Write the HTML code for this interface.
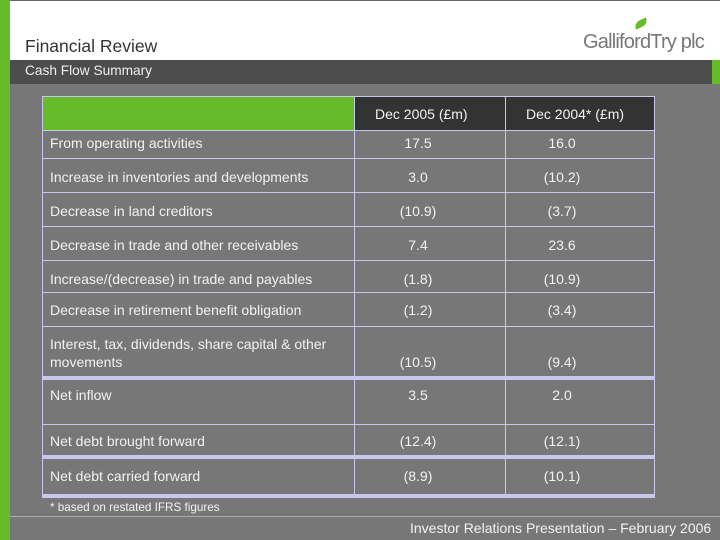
<!DOCTYPE html>
<html><head><meta charset="utf-8"><style>
body{margin:0;width:720px;height:540px;overflow:hidden;background:#777;font-family:"Liberation Sans",sans-serif;position:relative}
div{position:absolute}
.t{color:#f2f2f2;font-size:14px;white-space:nowrap}
.hl{left:42px;width:613px;background:#c8c8ee}
.vl{width:1px;background:#c8c8ee}
</style></head><body>
<div style="left:0;top:0;width:720px;height:60px;background:#fff;border-top:1px solid #666;box-sizing:border-box"></div>
<div style="left:0;top:0;width:10px;height:540px;background:#66bb2a"></div>
<div style="left:25px;top:36px;font-size:17.5px;color:#333">Financial Review</div>
<div style="left:583px;top:31px;font-size:20px;color:#777;letter-spacing:-0.8px">GallifordTry plc</div>
<div style="left:634px;top:20px;width:14px;height:7px;background:#66bb2a;border-radius:8px 0 8px 0;transform:rotate(-25deg)"></div>
<div style="left:10px;top:60px;width:702px;height:24px;background:#4d4d4d"></div>
<div style="left:712px;top:60px;width:8px;height:24px;background:#66bb2a"></div>
<div class="t" style="left:25px;top:63px;color:#eee;font-size:13.7px">Cash Flow Summary</div>

<div style="left:42px;top:96px;width:312px;height:35px;background:#66bb2a"></div>
<div style="left:354px;top:96px;width:301px;height:35px;background:#333"></div>
<div class="t" style="left:375px;top:106px">Dec 2005 (£m)</div>
<div class="t" style="left:526px;top:106px">Dec 2004* (£m)</div>

<div class="hl" style="top:96px;height:1px"></div>
<div class="hl" style="top:130px;height:1px"></div>
<div class="hl" style="top:158px;height:1px"></div>
<div class="hl" style="top:192px;height:1px"></div>
<div class="hl" style="top:226px;height:1px"></div>
<div class="hl" style="top:260px;height:1px"></div>
<div class="hl" style="top:292px;height:1px"></div>
<div class="hl" style="top:326px;height:1px"></div>
<div class="hl" style="top:376px;height:4px"></div>
<div class="hl" style="top:424px;height:1px"></div>
<div class="hl" style="top:455px;height:4px"></div>
<div class="hl" style="top:494px;height:4px"></div>
<div class="vl" style="left:42px;top:96px;height:402px"></div>
<div class="vl" style="left:354px;top:96px;height:402px"></div>
<div class="vl" style="left:505px;top:96px;height:402px"></div>
<div class="vl" style="left:654px;top:96px;height:402px"></div>

<div class="t" style="left:50px;top:501px;font-size:11.7px">* based on restated IFRS figures</div>
<div style="left:10px;top:516px;width:710px;height:1px;background:#aaa"></div>
<div class="t" style="left:410px;top:520px;font-size:14px">Investor Relations Presentation – February 2006</div>
<script>
const labels=["From operating activities","Increase in inventories and developments","Decrease in land creditors","Decrease in trade and other receivables","Increase/(decrease) in trade and payables","Decrease in retirement benefit obligation","Interest, tax, dividends, share capital & other<br>movements","Net inflow","Net debt brought forward","Net debt carried forward"];
const v2005=["17.5","3.0","(10.9)","7.4","(1.8)","(1.2)","(10.5)","3.5","(12.4)","(8.9)"];
const v2004=["16.0","(10.2)","(3.7)","23.6","(10.9)","(3.4)","(9.4)","2.0","(12.1)","(10.1)"];
const tops=[134,168,202,236,270,301,335,386,432,467];
const vtops=[134,168,202,236,270,301,353,386,432,467];
const host=document.body;
labels.forEach((l,i)=>{
 const a=document.createElement('div');a.className='t';a.style.left='50px';a.style.top=tops[i]+'px';a.style.lineHeight='18px';a.innerHTML=l;
 
 
 host.appendChild(a);
 [[v2005[i],418],[v2004[i],562]].forEach(([v,cx])=>{
  const b=document.createElement('div');b.className='t';b.style.left=(cx-40)+'px';b.style.width='80px';b.style.textAlign='center';b.style.top=vtops[i]+'px';b.style.lineHeight='18px';b.textContent=v;
  
  
  host.appendChild(b);
 });
});
</script>
</body></html>
